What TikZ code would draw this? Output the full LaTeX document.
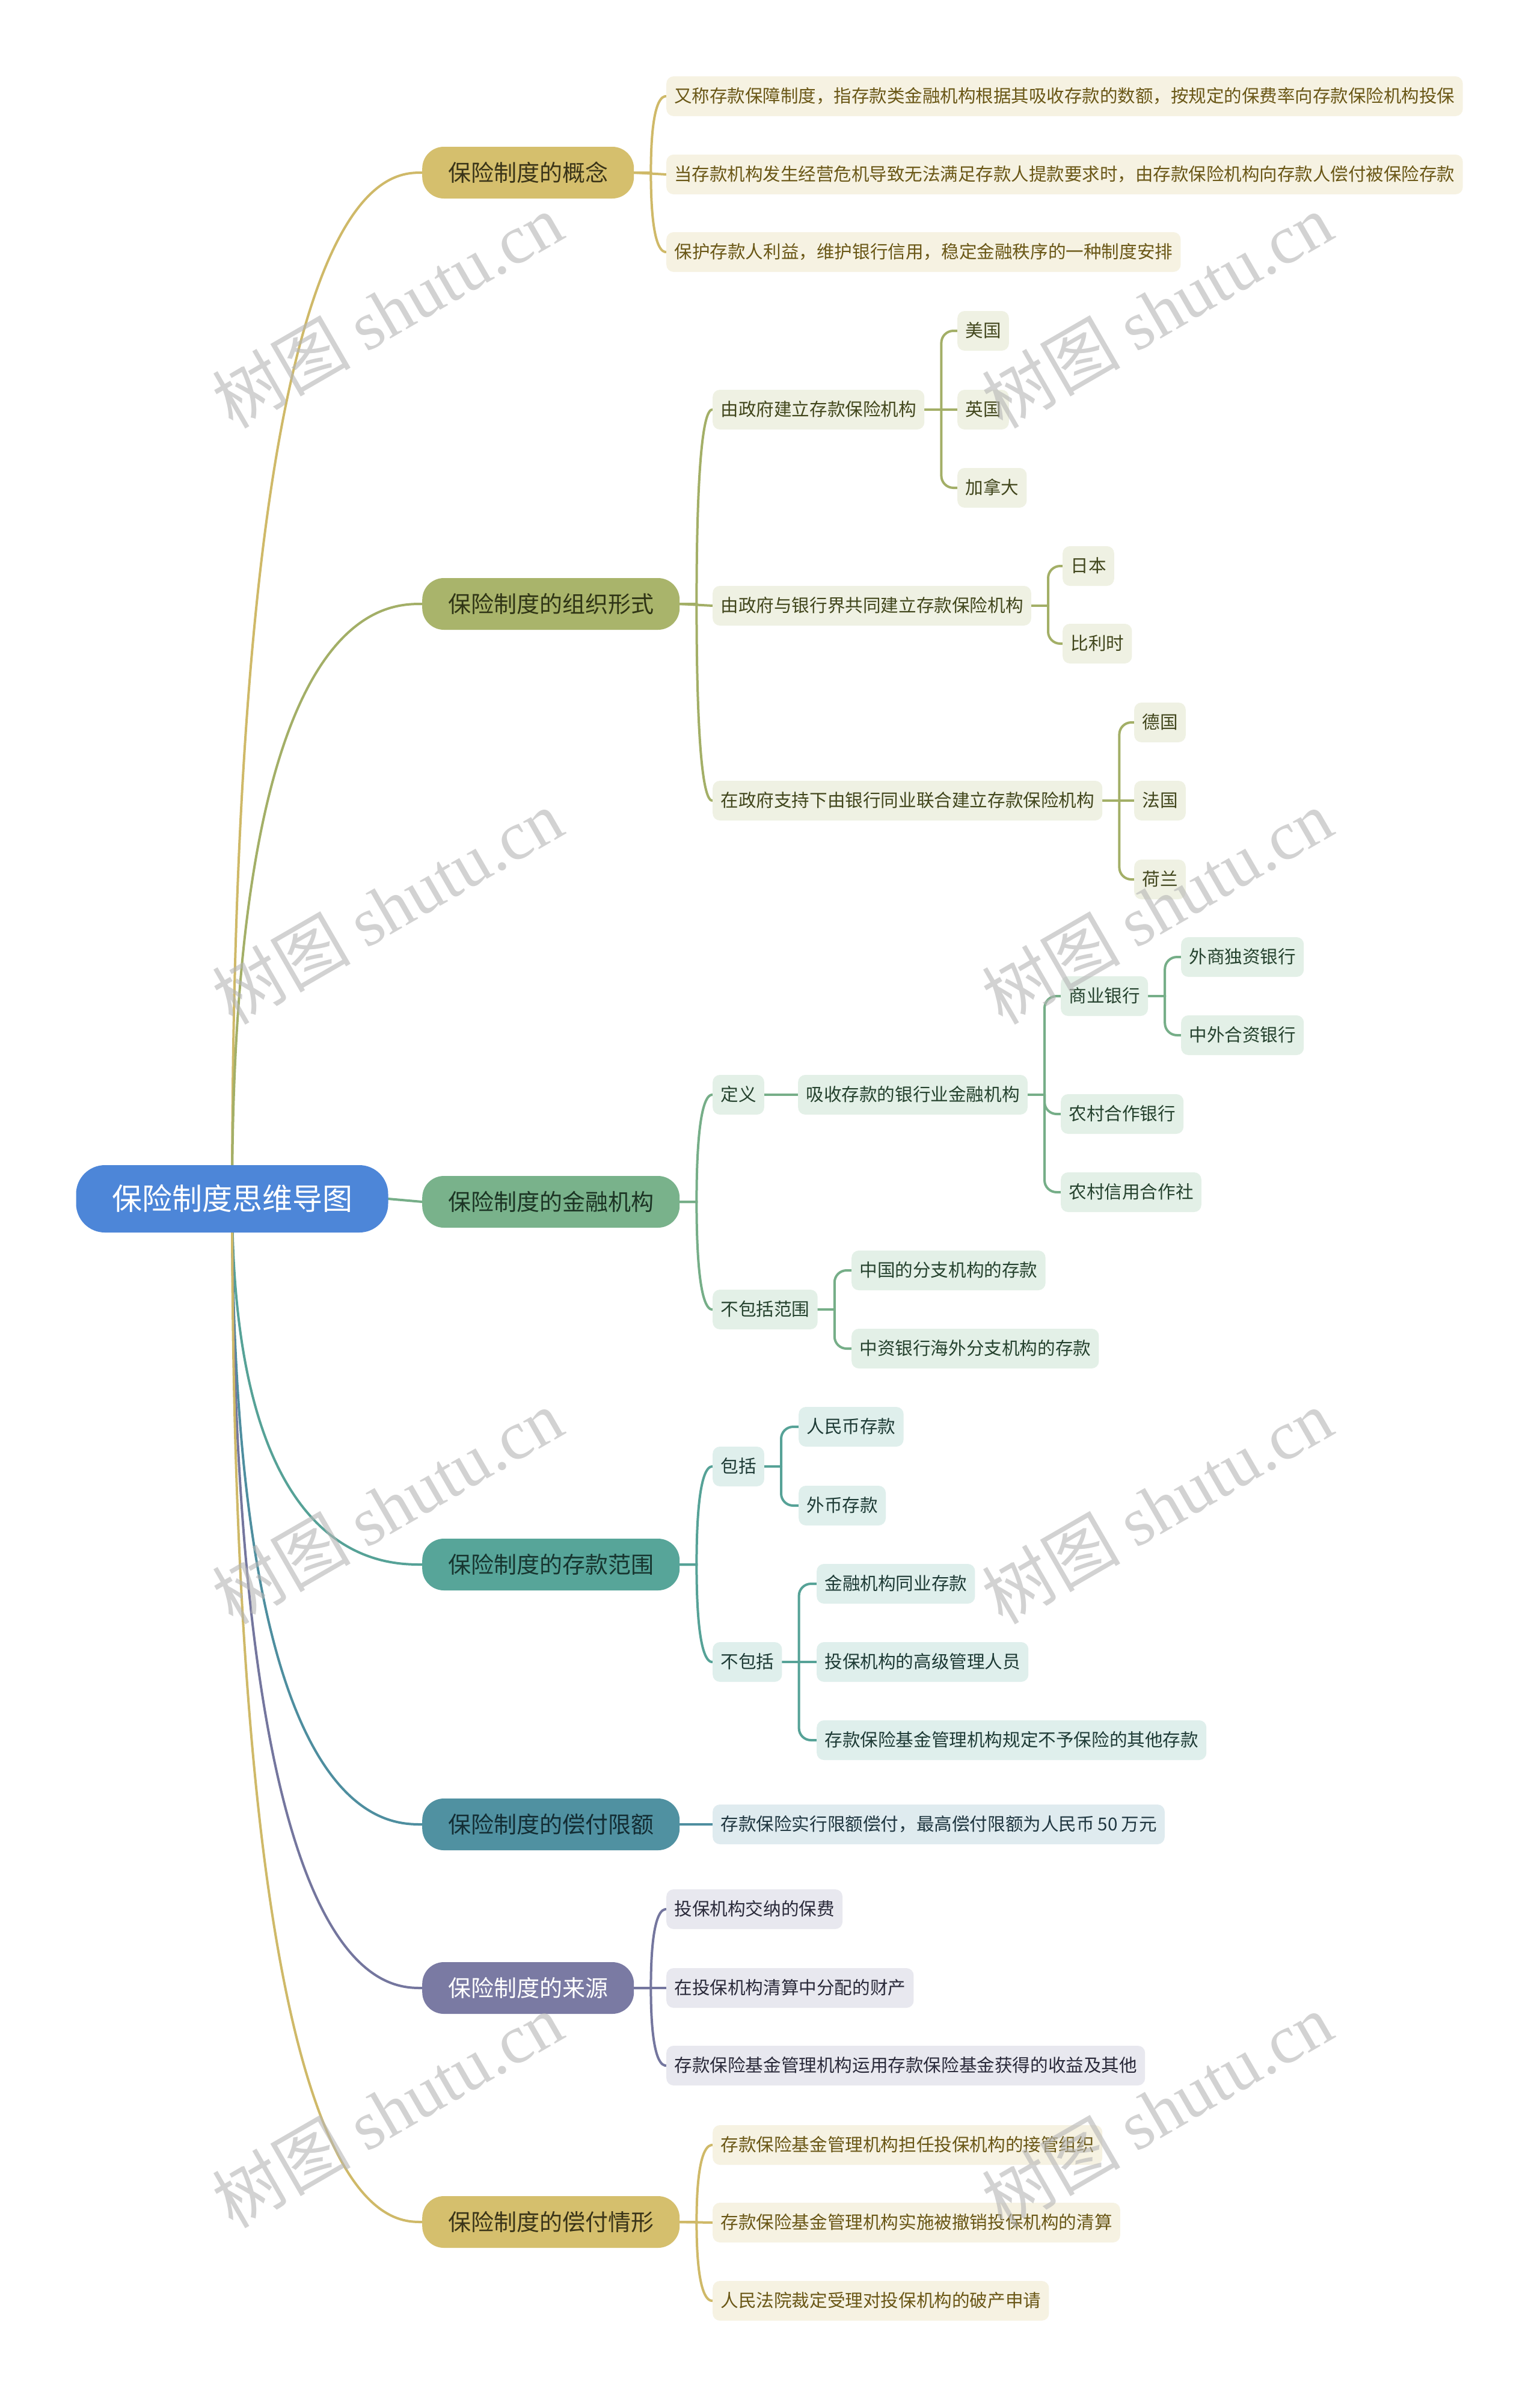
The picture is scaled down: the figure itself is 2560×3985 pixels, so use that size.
\documentclass[tikz,border=0pt]{standalone}
\usepackage{fontspec}
\usepackage{graphicx}
\setmainfont{Noto Sans CJK SC}[Kerning=Off]
\newfontfamily\wmserif{Liberation Serif}
\usetikzlibrary{calc}
\pgfdeclarelayer{bg}
\pgfsetlayers{bg,main}
\newcommand\fwc{\makebox[1em][l]{，}}

\definecolor{cRoot}{HTML}{4D86D8}
\definecolor{cGold}{HTML}{D5BF6D}
\definecolor{lnGold}{HTML}{CFB968}
\definecolor{tGold}{HTML}{3A3418}
\definecolor{fGold}{HTML}{F6F2E2}
\definecolor{sGold}{HTML}{6A5716}
\definecolor{cOlive}{HTML}{A9B46B}
\definecolor{lnOlive}{HTML}{A3AF67}
\definecolor{tOlive}{HTML}{2F3415}
\definecolor{fOlive}{HTML}{EFF1E3}
\definecolor{sOlive}{HTML}{41461C}
\definecolor{cGreen}{HTML}{79B28B}
\definecolor{lnGreen}{HTML}{76AE88}
\definecolor{tGreen}{HTML}{1C3424}
\definecolor{fGreen}{HTML}{E3F0E7}
\definecolor{sGreen}{HTML}{25422E}
\definecolor{cTeal}{HTML}{57A599}
\definecolor{lnTeal}{HTML}{56A297}
\definecolor{tTeal}{HTML}{17352F}
\definecolor{fTeal}{HTML}{DFEFEC}
\definecolor{sTeal}{HTML}{1E3B36}
\definecolor{cBlue}{HTML}{5091A1}
\definecolor{lnBlue}{HTML}{4E8E9F}
\definecolor{tBlue}{HTML}{132D34}
\definecolor{fBlue}{HTML}{DFEBEF}
\definecolor{sBlue}{HTML}{1F3640}
\definecolor{cPurple}{HTML}{7A7AA3}
\definecolor{lnPurple}{HTML}{74769E}
\definecolor{fPurple}{HTML}{E8E8EF}
\definecolor{sPurple}{HTML}{2A2A3A}
\definecolor{wmgray}{HTML}{B5B5B5}

\tikzset{
  base/.style={draw=none},
  rootbox/.style={base, fill=cRoot, text=white, rounded corners=48,
    minimum width=519, minimum height=112, inner xsep=0, inner ysep=0,
    text height=42, text depth=5,
    font=\fontsize{50}{60}\selectfont},
  lone/.style={base, rounded corners=36, minimum height=86, inner xsep=43,
    inner ysep=0, text height=31.9, text depth=3.8,
    font=\fontsize{38}{46}\selectfont, anchor=west},
  leaf/.style={base, rounded corners=12, minimum height=66, inner xsep=13.2,
    inner ysep=0, text height=24.9, text depth=3,
    font=\fontsize{29.6}{35}\selectfont, anchor=west},
  lfGold/.style={leaf, fill=fGold, text=sGold},
  lfOlive/.style={leaf, fill=fOlive, text=sOlive},
  lfGreen/.style={leaf, fill=fGreen, text=sGreen},
  lfTeal/.style={leaf, fill=fTeal, text=sTeal},
  lfBlue/.style={leaf, fill=fBlue, text=sBlue},
  lfPurple/.style={leaf, fill=fPurple, text=sPurple},
  conn/.style={line width=4, line cap=round},
  wm/.style={text=wmgray, opacity=0.6, rotate=30,
    font=\fontsize{115}{130}\selectfont, inner sep=0},
}

\newcommand\mmroot[3]{%
  \draw[conn,#1] (#2.center) .. controls (#2.center |- #3.west)
    and ($(#2.center |- #3.west)!0.8!(#3.west)$) .. (#3.west);}
\newcommand\mmcurve[3]{%
  \draw[conn,#1] (#2.east) -- ++(28,0) coordinate (tmp)
    .. controls (tmp |- #3.west) and ($(tmp |- #3.west)!0.8!(#3.west)$) .. (#3.west);}
\newcommand\mmelbow[3]{%
  \draw[conn,#1] (#2.east) -- ++(28,0) coordinate (tmp);
  \draw[conn,#1,rounded corners=20] (tmp) |- (#3.west);}
\newcommand\mmline[3]{%
  \draw[conn,#1] (#2.east) -- (#3.west);}

\begin{document}
\begin{tikzpicture}[x=1pt,y=-1pt]
\begin{pgfonlayer}{bg}
\fill[white] (0,0) rectangle (2560,3985);
\end{pgfonlayer}
\useasboundingbox (0,0) rectangle (2560,3985);

% root
\node[rootbox] (root) at (386,1993) {保险制度思维导图};

% level 1
\node[lone, fill=cGold, text=tGold] (a) at (702,287) {保险制度的概念};
\node[lone, fill=cOlive, text=tOlive] (b) at (702,1004) {保险制度的组织形式};
\node[lone, fill=cGreen, text=tGreen] (c) at (702,1998) {保险制度的金融机构};
\node[lone, fill=cTeal, text=tTeal] (d) at (702,2601) {保险制度的存款范围};
\node[lone, fill=cBlue, text=tBlue] (e) at (702,3033) {保险制度的偿付限额};
\node[lone, fill=cPurple, text=white] (f) at (702,3305) {保险制度的来源};
\node[lone, fill=cGold, text=tGold] (g) at (702,3694) {保险制度的偿付情形};

% concept
\node[lfGold] (a1) at (1108,160) {\resizebox{1298pt}{\height}{又称存款保障制度\fwc 指存款类金融机构根据其吸收存款的数额\fwc 按规定的保费率向存款保险机构投保}};
\node[lfGold] (a2) at (1108,290) {\resizebox{1298pt}{\height}{当存款机构发生经营危机导致无法满足存款人提款要求时\fwc 由存款保险机构向存款人偿付被保险存款}};
\node[lfGold] (a3) at (1108,419) {保护存款人利益\fwc 维护银行信用\fwc 稳定金融秩序的一种制度安排};

% organisation
\node[lfOlive] (b1) at (1185,681) {由政府建立存款保险机构};
\node[lfOlive] (b11) at (1592,550) {美国};
\node[lfOlive] (b12) at (1592,681) {英国};
\node[lfOlive] (b13) at (1592,811) {加拿大};
\node[lfOlive] (b2) at (1185,1007) {由政府与银行界共同建立存款保险机构};
\node[lfOlive] (b21) at (1767,941) {日本};
\node[lfOlive] (b22) at (1767,1070) {比利时};
\node[lfOlive] (b3) at (1185,1331) {在政府支持下由银行同业联合建立存款保险机构};
\node[lfOlive] (b31) at (1886,1201) {德国};
\node[lfOlive] (b32) at (1886,1331) {法国};
\node[lfOlive] (b33) at (1886,1462) {荷兰};

% financial institutions
\node[lfGreen] (c1) at (1185,1820) {定义};
\node[lfGreen] (c11) at (1327,1820) {吸收存款的银行业金融机构};
\node[lfGreen] (c111) at (1764,1656) {商业银行};
\node[lfGreen] (c1111) at (1964,1591) {外商独资银行};
\node[lfGreen] (c1112) at (1964,1721) {中外合资银行};
\node[lfGreen] (c112) at (1764,1852) {农村合作银行};
\node[lfGreen] (c113) at (1764,1982) {农村信用合作社};
\node[lfGreen] (c2) at (1185,2177) {不包括范围};
\node[lfGreen] (c21) at (1416,2112) {中国的分支机构的存款};
\node[lfGreen] (c22) at (1416,2242) {中资银行海外分支机构的存款};

% deposit scope
\node[lfTeal] (d1) at (1185,2438) {包括};
\node[lfTeal] (d11) at (1328,2372) {人民币存款};
\node[lfTeal] (d12) at (1328,2503) {外币存款};
\node[lfTeal] (d2) at (1185,2763) {不包括};
\node[lfTeal] (d21) at (1358,2633) {金融机构同业存款};
\node[lfTeal] (d22) at (1358,2763) {投保机构的高级管理人员};
\node[lfTeal] (d23) at (1358,2893) {存款保险基金管理机构规定不予保险的其他存款};

% limit
\node[lfBlue] (e1) at (1185,3033) {存款保险实行限额偿付\fwc 最高偿付限额为人民币\makebox[1.5em]{50}万元};

% sources
\node[lfPurple] (f1) at (1108,3174) {投保机构交纳的保费};
\node[lfPurple] (f2) at (1108,3305) {在投保机构清算中分配的财产};
\node[lfPurple] (f3) at (1108,3434) {存款保险基金管理机构运用存款保险基金获得的收益及其他};

% cases
\node[lfGold] (g1) at (1185,3566) {存款保险基金管理机构担任投保机构的接管组织};
\node[lfGold] (g2) at (1185,3695) {存款保险基金管理机构实施被撤销投保机构的清算};
\node[lfGold] (g3) at (1185,3825) {人民法院裁定受理对投保机构的破产申请};

\begin{pgfonlayer}{bg}
% root to level 1
\mmroot{lnGold}{root}{a}
\mmroot{lnOlive}{root}{b}
\mmline{lnGreen}{root}{c}
\mmroot{lnTeal}{root}{d}
\mmroot{lnBlue}{root}{e}
\mmroot{lnPurple}{root}{f}
\mmroot{lnGold}{root}{g}
% level 1 to level 2
\mmcurve{lnGold}{a}{a1}
\mmline{lnGold}{a}{a2}
\mmcurve{lnGold}{a}{a3}
\mmcurve{lnOlive}{b}{b1}
\mmline{lnOlive}{b}{b2}
\mmcurve{lnOlive}{b}{b3}
\mmcurve{lnGreen}{c}{c1}
\mmcurve{lnGreen}{c}{c2}
\mmcurve{lnTeal}{d}{d1}
\mmcurve{lnTeal}{d}{d2}
\mmline{lnBlue}{e}{e1}
\mmcurve{lnPurple}{f}{f1}
\mmline{lnPurple}{f}{f2}
\mmcurve{lnPurple}{f}{f3}
\mmcurve{lnGold}{g}{g1}
\mmline{lnGold}{g}{g2}
\mmcurve{lnGold}{g}{g3}
% deeper
\mmelbow{lnOlive}{b1}{b11}
\mmline{lnOlive}{b1}{b12}
\mmelbow{lnOlive}{b1}{b13}
\mmelbow{lnOlive}{b2}{b21}
\mmelbow{lnOlive}{b2}{b22}
\mmelbow{lnOlive}{b3}{b31}
\mmline{lnOlive}{b3}{b32}
\mmelbow{lnOlive}{b3}{b33}
\mmline{lnGreen}{c1}{c11}
\mmelbow{lnGreen}{c11}{c111}
\mmelbow{lnGreen}{c11}{c112}
\mmelbow{lnGreen}{c11}{c113}
\mmelbow{lnGreen}{c111}{c1111}
\mmelbow{lnGreen}{c111}{c1112}
\mmelbow{lnGreen}{c2}{c21}
\mmelbow{lnGreen}{c2}{c22}
\mmelbow{lnTeal}{d1}{d11}
\mmelbow{lnTeal}{d1}{d12}
\mmelbow{lnTeal}{d2}{d21}
\mmline{lnTeal}{d2}{d22}
\mmelbow{lnTeal}{d2}{d23}
\end{pgfonlayer}

% watermarks
\node[wm] (w1) at (644,516) {树图 {\wmserif shutu.cn}};
\node[wm] (w2) at (1924,516) {树图 {\wmserif shutu.cn}};
\node[wm] (w3) at (644,1507) {树图 {\wmserif shutu.cn}};
\node[wm] (w4) at (1924,1507) {树图 {\wmserif shutu.cn}};
\node[wm] (w5) at (644,2504) {树图 {\wmserif shutu.cn}};
\node[wm] (w6) at (1924,2504) {树图 {\wmserif shutu.cn}};
\node[wm] (w7) at (644,3508) {树图 {\wmserif shutu.cn}};
\node[wm] (w8) at (1924,3508) {树图 {\wmserif shutu.cn}};
\end{tikzpicture}
\end{document}
